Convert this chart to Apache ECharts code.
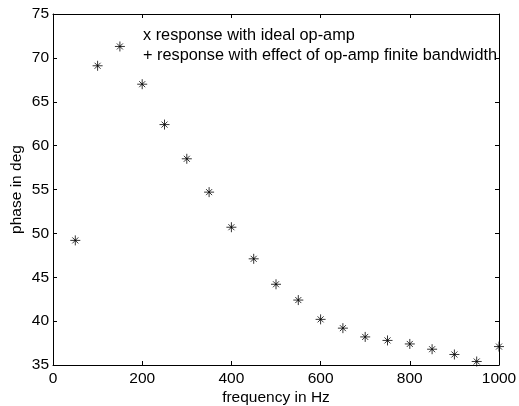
<!DOCTYPE html>
<html><head><meta charset="utf-8">
<script src="https://cdn.jsdelivr.net/npm/echarts@6/dist/echarts.min.js"></script>
<style>html,body{margin:0;padding:0;background:#fff}#c{width:519px;height:406px}</style>
</head><body><div id="c"></div>
<script>
const freq = [50,100,150,200,250,300,350,400,450,500,550,600,650,700,750,800,850,900,950,1000];
const idealPhase = [49.2,69.1,71.3,67.0,62.4,58.5,54.7,50.7,47.1,44.2,42.4,40.2,39.2,38.2,37.8,37.4,36.8,36.2,35.4,37.1];
const finitePhase = [49.2,69.1,71.3,67.0,62.4,58.5,54.7,50.7,47.1,44.2,42.4,40.2,39.2,38.2,37.8,37.4,36.8,36.2,35.4,37.1];
const legendLabels = ['x response with ideal op-amp','+ response with effect of op-amp finite bandwidth'];
const xLabel = 'frequency in Hz';
const yLabel = 'phase in deg';

const font = 'Liberation Sans, Arial, sans-serif';
const fs = 15.5;
const chart = echarts.init(document.getElementById('c'));
const axisCommon = {
  axisLine:{show:true,onZero:false,lineStyle:{color:'#000',width:1}},
  axisTick:{show:true,inside:true,length:4,lineStyle:{color:'#000'}},
  splitLine:{show:false},
  nameMoveOverlap:false
};
const xs = (i)=>Object.assign({type:'value',min:0,max:1000,interval:200,position:i?'top':'bottom',
  axisLabel:{show:!i,color:'#000',fontSize:fs,fontFamily:font,margin:6,formatter:v=>String(v)},
  name:i?'':xLabel,nameLocation:'middle',nameGap:25,nameTextStyle:{color:'#000',fontSize:fs,fontFamily:font}},axisCommon);
const ys = (i)=>Object.assign({type:'value',min:35,max:75,interval:5,position:i?'right':'left',
  axisLabel:{show:!i,color:'#000',fontSize:fs,fontFamily:font,margin:4,formatter:v=>String(v)},
  name:i?'':yLabel,nameLocation:'middle',nameGap:28,nameTextStyle:{color:'#000',fontSize:fs,fontFamily:font}},axisCommon);
chart.setOption({
  animation:false,
  backgroundColor:'#fff',
  grid:{left:53,right:20,top:14,bottom:41,containLabel:false,outerBoundsMode:'none'},
  xAxis:[xs(0),xs(1)],
  yAxis:[ys(0),ys(1)],
  graphic:[
    {type:'text',left:143,top:28,style:{text:legendLabels[0],fill:'#000',font:'16.3px '+font}},
    {type:'text',left:143,top:48,style:{text:legendLabels[1],fill:'#000',font:'16.3px '+font}}
  ],
  series:[
    {type:'scatter',name:'ideal',data:freq.map((f,i)=>[f,idealPhase[i]]),
     symbol:'path://M0,0 L10,10 M10,0 L0,10',symbolSize:6,
     itemStyle:{color:'none',borderColor:'#000',borderWidth:1}},
    {type:'scatter',name:'finite',data:freq.map((f,i)=>[f,finitePhase[i]]),
     symbol:'path://M0,5 L10,5 M5,0 L5,10',symbolSize:10,
     itemStyle:{color:'none',borderColor:'#000',borderWidth:1}}
  ]
});
</script></body></html>
